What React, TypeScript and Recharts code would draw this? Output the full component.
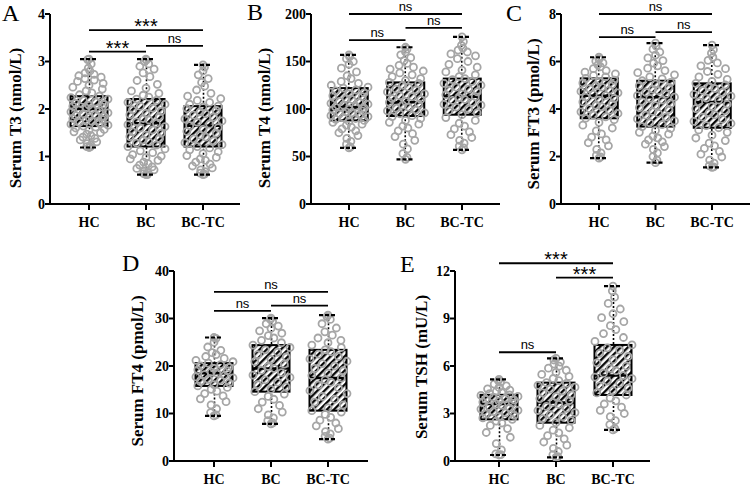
import React from 'react';
import { ComposedChart, Bar, Scatter, XAxis, YAxis, ReferenceLine } from 'recharts';

const CATS = ['HC', 'BC', 'BC-TC'];

// ---------- Panel A: Serum T3 (nmol/L)
const T3_MIN = [1.19, 0.62, 0.62];
const T3_Q1 = [1.64, 1.21, 1.21];
const T3_MED = [2.0, 1.7, 1.65];
const T3_Q3 = [2.27, 2.21, 2.06];
const T3_MAX = [3.05, 3.05, 2.93];
const T3_TICKS = [0, 1, 2, 3, 4];
const T3_HC = [1.19, 1.2, 1.21, 1.24, 1.27, 1.31, 1.35, 1.38, 1.41, 1.44, 1.47, 1.5, 1.52, 1.55, 1.57, 1.6, 1.62, 1.64, 1.66, 1.68, 1.7, 1.72, 1.74, 1.76, 1.78, 1.8, 1.82, 1.84, 1.86, 1.88, 1.9, 1.92, 1.94, 1.96, 1.98, 2.0, 2.02, 2.04, 2.06, 2.08, 2.1, 2.12, 2.15, 2.18, 2.21, 2.24, 2.27, 2.3, 2.34, 2.38, 2.42, 2.46, 2.5, 2.54, 2.58, 2.61, 2.64, 2.67, 2.7, 2.73, 2.76, 2.8, 2.86, 2.95, 3.04, 3.05];
const T3_BC = [0.62, 0.62, 0.64, 0.66, 0.69, 0.72, 0.75, 0.78, 0.82, 0.85, 0.88, 0.92, 0.95, 0.98, 1.01, 1.04, 1.08, 1.12, 1.16, 1.21, 1.24, 1.28, 1.31, 1.35, 1.38, 1.42, 1.45, 1.49, 1.52, 1.56, 1.6, 1.63, 1.67, 1.7, 1.73, 1.77, 1.8, 1.84, 1.88, 1.91, 1.95, 1.98, 2.02, 2.06, 2.1, 2.14, 2.18, 2.21, 2.25, 2.29, 2.33, 2.38, 2.44, 2.52, 2.6, 2.68, 2.76, 2.84, 2.9, 2.95, 3.0, 3.03, 3.05];
const T3_BCTC = [0.62, 0.63, 0.65, 0.68, 0.72, 0.76, 0.8, 0.84, 0.88, 0.92, 0.95, 0.98, 1.02, 1.06, 1.1, 1.14, 1.18, 1.21, 1.25, 1.29, 1.33, 1.37, 1.41, 1.45, 1.49, 1.53, 1.57, 1.61, 1.65, 1.68, 1.72, 1.75, 1.79, 1.83, 1.87, 1.9, 1.94, 1.97, 2.01, 2.04, 2.06, 2.1, 2.14, 2.18, 2.22, 2.27, 2.33, 2.4, 2.48, 2.56, 2.64, 2.72, 2.8, 2.88, 2.93];
const T3_SIGS = [
  { a: 'HC', b: 'BC-TC', y: 3.66, t: '***' },
  { a: 'HC', b: 'BC', y: 3.21, t: '***' },
  { a: 'BC', b: 'BC-TC', y: 3.33, t: 'ns' },
];

// ---------- Panel B: Serum T4 (nmol/L)
const T4_MIN = [59, 47, 57];
const T4_Q1 = [88, 92.6, 94];
const T4_MED = [102, 107, 113];
const T4_Q3 = [122, 128, 132];
const T4_MAX = [157, 165, 176];
const T4_TICKS = [0, 50, 100, 150, 200];
const T4_HC = [59, 60, 63, 66, 69, 72, 75, 77, 79, 81, 83, 84, 86, 87, 88, 89, 90, 91, 92, 93, 94, 95, 96, 97, 98, 99, 100, 101, 102, 103, 104, 105, 106, 107, 108, 110, 111, 113, 114, 116, 117, 119, 120, 122, 123, 125, 127, 129, 132, 135, 139, 143, 147, 150, 153, 155, 157];
const T4_BC = [47, 49, 53, 58, 63, 67, 71, 74, 77, 80, 82, 84, 86, 88, 90, 92, 93, 95, 96, 98, 99, 101, 102, 104, 105, 107, 108, 110, 111, 113, 114, 116, 118, 120, 121, 123, 125, 127, 128, 130, 132, 134, 136, 138, 140, 142, 144, 146, 148, 151, 154, 157, 160, 163, 165];
const T4_BCTC = [57, 59, 61, 64, 67, 70, 73, 76, 79, 82, 85, 88, 91, 94, 96, 98, 100, 102, 104, 105, 107, 109, 110, 112, 113, 115, 116, 118, 120, 121, 123, 125, 127, 129, 131, 132, 134, 136, 139, 141, 144, 147, 150, 153, 156, 158, 160, 162, 164, 167, 171, 176];
const T4_SIGS = [
  { a: 'HC', b: 'BC-TC', y: 200, t: 'ns' },
  { a: 'BC', b: 'BC-TC', y: 185.3, t: 'ns' },
  { a: 'HC', b: 'BC', y: 172.6, t: 'ns' },
];

// ---------- Panel C: Serum FT3 (pmol/L)
const FT3_MIN = [1.93, 1.74, 1.54];
const FT3_Q1 = [3.61, 3.26, 3.21];
const FT3_MED = [4.56, 4.5, 4.3];
const FT3_Q3 = [5.29, 5.19, 5.08];
const FT3_MAX = [6.18, 6.77, 6.69];
const FT3_TICKS = [0, 2, 4, 6, 8];
const FT3_HC = [1.93, 1.98, 2.05, 2.15, 2.3, 2.45, 2.58, 2.7, 2.82, 2.95, 3.08, 3.2, 3.32, 3.44, 3.55, 3.61, 3.67, 3.74, 3.81, 3.88, 3.95, 4.02, 4.09, 4.16, 4.23, 4.3, 4.37, 4.44, 4.5, 4.56, 4.62, 4.68, 4.74, 4.8, 4.86, 4.92, 4.98, 5.04, 5.1, 5.16, 5.22, 5.29, 5.35, 5.42, 5.48, 5.55, 5.62, 5.7, 5.78, 5.86, 5.94, 6.02, 6.1, 6.18];
const FT3_BC = [1.74, 1.85, 2.0, 2.15, 2.3, 2.42, 2.52, 2.62, 2.7, 2.78, 2.86, 2.94, 3.02, 3.1, 3.18, 3.26, 3.34, 3.42, 3.5, 3.58, 3.66, 3.74, 3.82, 3.9, 3.98, 4.06, 4.14, 4.22, 4.3, 4.38, 4.45, 4.5, 4.56, 4.63, 4.7, 4.77, 4.84, 4.91, 4.98, 5.05, 5.12, 5.19, 5.27, 5.35, 5.44, 5.53, 5.62, 5.72, 5.82, 5.93, 6.04, 6.15, 6.27, 6.4, 6.52, 6.65, 6.77];
const FT3_BCTC = [1.54, 1.56, 1.62, 1.72, 1.85, 1.98, 2.1, 2.22, 2.34, 2.45, 2.56, 2.67, 2.78, 2.9, 3.02, 3.12, 3.21, 3.3, 3.39, 3.48, 3.57, 3.66, 3.75, 3.84, 3.93, 4.02, 4.11, 4.2, 4.3, 4.38, 4.46, 4.54, 4.62, 4.7, 4.78, 4.86, 4.94, 5.01, 5.08, 5.16, 5.25, 5.35, 5.46, 5.58, 5.7, 5.82, 5.94, 6.05, 6.18, 6.35, 6.5, 6.69];
const FT3_SIGS = [
  { a: 'HC', b: 'BC-TC', y: 8, t: 'ns' },
  { a: 'BC', b: 'BC-TC', y: 7.24, t: 'ns' },
  { a: 'HC', b: 'BC', y: 7.03, t: 'ns' },
];

// ---------- Panel D: Serum FT4 (pmol/L)
const FT4_MIN = [9.5, 7.8, 4.6];
const FT4_Q1 = [15.8, 14.6, 10.6];
const FT4_MED = [18.5, 19.5, 17.5];
const FT4_Q3 = [20.6, 24.4, 23.4];
const FT4_MAX = [26.0, 30.1, 30.7];
const FT4_TICKS = [0, 10, 20, 30, 40];
const FT4_HC = [9.5, 9.7, 10.2, 11.0, 11.8, 12.5, 13.1, 13.7, 14.2, 14.7, 15.1, 15.5, 15.8, 16.1, 16.4, 16.7, 17.0, 17.2, 17.5, 17.7, 18.0, 18.2, 18.5, 18.7, 19.0, 19.2, 19.5, 19.7, 20.0, 20.3, 20.6, 20.9, 21.2, 21.6, 22.0, 22.4, 22.8, 23.3, 24.0, 25.0, 25.8, 26.0];
const FT4_BC = [7.8, 8.0, 8.5, 9.1, 9.7, 10.3, 11.0, 11.7, 12.4, 13.0, 13.6, 14.1, 14.6, 15.1, 15.6, 16.1, 16.6, 17.1, 17.6, 18.1, 18.6, 19.1, 19.5, 19.9, 20.4, 20.9, 21.4, 21.9, 22.4, 22.9, 23.4, 23.9, 24.4, 24.9, 25.4, 25.9, 26.4, 26.9, 27.4, 27.9, 28.4, 28.9, 29.4, 29.8, 30.1];
const FT4_BCTC = [4.6, 4.8, 5.2, 5.7, 6.2, 6.8, 7.4, 8.0, 8.6, 9.2, 9.8, 10.3, 10.6, 11.2, 11.8, 12.4, 13.0, 13.6, 14.2, 14.8, 15.4, 16.0, 16.6, 17.1, 17.5, 18.0, 18.5, 19.0, 19.5, 20.0, 20.5, 21.0, 21.5, 22.0, 22.5, 23.0, 23.4, 23.9, 24.4, 24.9, 25.4, 25.9, 26.5, 27.2, 28.0, 28.9, 29.8, 30.4, 30.7];
const FT4_SIGS = [
  { a: 'HC', b: 'BC-TC', y: 35.6, t: 'ns' },
  { a: 'BC', b: 'BC-TC', y: 32.7, t: 'ns' },
  { a: 'HC', b: 'BC', y: 31.6, t: 'ns' },
];

// ---------- Panel E: Serum TSH (mU/L)
const TSH_MIN = [0.38, 0.23, 1.96];
const TSH_Q1 = [2.63, 2.42, 4.17];
const TSH_MED = [3.6, 3.7, 5.4];
const TSH_Q3 = [4.18, 4.95, 7.33];
const TSH_MAX = [5.16, 6.48, 11.05];
const TSH_TICKS = [0, 3, 6, 9, 12];
const TSH_HC = [0.38, 0.4, 0.45, 0.7, 1.1, 1.5, 1.8, 2.05, 2.25, 2.4, 2.52, 2.63, 2.72, 2.8, 2.88, 2.96, 3.04, 3.12, 3.2, 3.28, 3.36, 3.44, 3.52, 3.6, 3.66, 3.72, 3.78, 3.84, 3.9, 3.96, 4.02, 4.08, 4.14, 4.18, 4.25, 4.32, 4.4, 4.48, 4.56, 4.65, 4.75, 4.86, 4.97, 5.08, 5.16];
const TSH_BC = [0.23, 0.28, 0.4, 0.6, 0.8, 1.0, 1.2, 1.4, 1.6, 1.78, 1.95, 2.1, 2.25, 2.42, 2.55, 2.68, 2.8, 2.93, 3.06, 3.19, 3.32, 3.45, 3.58, 3.7, 3.82, 3.94, 4.06, 4.18, 4.3, 4.42, 4.54, 4.66, 4.78, 4.9, 4.95, 5.08, 5.21, 5.34, 5.47, 5.6, 5.73, 5.86, 5.99, 6.12, 6.25, 6.38, 6.48];
const TSH_BCTC = [1.96, 2.05, 2.3, 2.55, 2.8, 3.0, 3.2, 3.4, 3.6, 3.8, 3.98, 4.17, 4.3, 4.45, 4.6, 4.75, 4.9, 5.05, 5.2, 5.3, 5.4, 5.55, 5.7, 5.85, 6.0, 6.2, 6.4, 6.6, 6.8, 7.0, 7.15, 7.33, 7.55, 7.8, 8.05, 8.3, 8.55, 8.8, 9.05, 9.3, 9.6, 9.95, 10.35, 10.75, 11.05];
const TSH_SIGS = [
  { a: 'HC', b: 'BC-TC', y: 12.49, t: '***' },
  { a: 'BC', b: 'BC-TC', y: 11.58, t: '***' },
  { a: 'HC', b: 'BC', y: 6.87, t: 'ns' },
];

// ---------- styling
const SERIF = "'Liberation Serif','Times New Roman',serif";
const SANS = "'Liberation Sans',Arial,sans-serif";
const POINT = '#a6a6a6';
const SPREAD = [0, 0.8, -0.7, 0.35, -0.3, 1.0, -0.95, 0.55, -0.5, 0.15, -0.15, 0.7, -0.85];
const XH = 30;

const Dot = (props: any) => {
  const { cx, cy, payload } = props;
  if (cx == null || cy == null) return null;
  const q = payload.n > 1 ? payload.i / (payload.n - 1) : 0.5;
  const amp = 19 * Math.min(1, 1.7 * Math.sin(Math.PI * q));
  const dx = SPREAD[payload.i % SPREAD.length] * amp;
  return <circle cx={cx + dx} cy={cy} r={3.5} fill="none" stroke={POINT} strokeWidth={1.8} />;
};

const MedShape = (props: any) => {
  const { cx, cy } = props;
  if (cx == null || cy == null) return null;
  return <line x1={cx - 18} x2={cx + 18} y1={cy} y2={cy} stroke="#000" strokeWidth={2.5} />;
};

const CapShape = (props: any) => {
  const { cx, cy } = props;
  if (cx == null || cy == null) return null;
  return <line x1={cx - 9} x2={cx + 9} y1={cy} y2={cy} stroke="#000" strokeWidth={2.2} strokeDasharray="4 2" />;
};

const WhiskerShape = (props: any) => {
  const { x, y, width, height } = props;
  const cx = x + width / 2;
  const top = Math.min(y, y + height);
  const bot = Math.max(y, y + height);
  return <line x1={cx} x2={cx} y1={top} y2={bot} stroke="#000" strokeWidth={1.6} strokeDasharray="2 2" />;
};

const makeBoxShape = (pid: string) => (props: any) => {
  const { x, y, width, height } = props;
  const top = Math.min(y, y + height);
  const h = Math.abs(height);
  return <rect x={x} y={top} width={width} height={h} fill={`url(#${pid})`} stroke="#000" strokeWidth={2} />;
};

const XTick = (props: any) => {
  const { x, y, payload, dy } = props;
  return (
    <text x={x} y={y + dy} textAnchor="middle" fontFamily={SERIF} fontWeight="bold" fontSize={14} fill="#000">
      {payload.value}
    </text>
  );
};

const YTick = (props: any) => {
  const { x, y, payload } = props;
  return (
    <text x={x} y={y + 4.7} textAnchor="end" fontFamily={SERIF} fontWeight="bold" fontSize={14} fill="#000">
      {payload.value}
    </text>
  );
};

const YLabel = (props: any) => {
  const { lx, ly, text } = props;
  return (
    <text x={lx} y={ly} transform={`rotate(-90, ${lx}, ${ly})`} textAnchor="middle" dominantBaseline="central"
      fontFamily={SERIF} fontWeight="bold" fontSize={17} fill="#000">
      {text}
    </text>
  );
};

const SigLabel = (props: any) => {
  const { viewBox, t } = props;
  if (!viewBox) return null;
  const cx = viewBox.x + (viewBox.width || 0) / 2;
  const y = viewBox.y;
  if (t === 'ns') {
    return <text x={cx} y={y - 3} textAnchor="middle" fontFamily={SANS} fontSize={13} fill="#000">ns</text>;
  }
  return <text x={cx} y={y + 3} textAnchor="middle" fontFamily={SANS} fontSize={20} fill="#000">{t}</text>;
};

type Sig = { a: string; b: string; y: number; t: string };
type PanelCfg = {
  id: string; left: number; top: number; w: number; h: number;
  axisX: number; plotTop: number; plotBottom: number; plotRight: number;
  padL: number; padR: number; xdy: number; ymax: number; ticks: number[];
  label: string; labelX: number; labelY: number;
  mins: number[]; q1s: number[]; meds: number[]; q3s: number[]; maxs: number[];
  groups: number[][]; sigs: Sig[];
};

const Panel = ({ p }: { p: PanelCfg }) => {
  const rows = CATS.map((cat, i) => ({
    cat,
    whisker: [p.mins[i], p.maxs[i]],
    box: [p.q1s[i], p.q3s[i]],
    med: p.meds[i],
    lo: p.mins[i],
    hi: p.maxs[i],
  }));
  const pts = p.groups.map((vals, gi) => vals.map((v, i) => ({ cat: CATS[gi], v, i, n: vals.length })));
  const pid = 'hatch' + p.id;
  const mTop = p.plotTop - p.top;
  const mRight = p.left + p.w - p.plotRight;
  const mBottom = p.h - (p.plotBottom - p.top) - XH;
  const axisStyle = { stroke: '#000', strokeWidth: 2 };
  return (
    <div style={{ position: 'absolute', left: p.left, top: p.top, width: p.w, height: p.h }}>
      <ComposedChart width={p.w} height={p.h} data={rows} margin={{ top: mTop, right: mRight, bottom: mBottom, left: 0 }}>
        <defs>
          <pattern id={pid} patternUnits="userSpaceOnUse" width={5} height={5} patternTransform="rotate(45)">
            <rect width={5} height={5} fill="#fff" />
            <line x1={1.2} y1={0} x2={1.2} y2={5} stroke="#000" strokeWidth={2.3} />
          </pattern>
        </defs>
        <XAxis dataKey="cat" type="category" allowDuplicatedCategory={false} padding={{ left: p.padL, right: p.padR }}
          height={XH} axisLine={axisStyle} tickLine={axisStyle} tickSize={6} interval={0}
          tick={<XTick dy={p.xdy} />} />
        <XAxis xAxisId="w" dataKey="cat" type="category" allowDuplicatedCategory={false}
          padding={{ left: p.padL, right: p.padR }} hide />
        <YAxis type="number" width={p.axisX - p.left} domain={[0, p.ymax]} ticks={p.ticks} interval={0}
          axisLine={axisStyle} tickLine={axisStyle} tickSize={5} tickMargin={0} tick={<YTick />}
          allowDataOverflow
          label={<YLabel lx={p.labelX - p.left} ly={p.labelY - p.top} text={p.label} />} />
        <Bar xAxisId="w" dataKey="whisker" barSize={10} shape={WhiskerShape} isAnimationActive={false} />
        <Bar dataKey="box" barSize={37} shape={makeBoxShape(pid)} isAnimationActive={false} />
        <Scatter dataKey="med" shape={MedShape} isAnimationActive={false} />
        {pts.map((g, gi) => (
          <Scatter key={'g' + gi} data={g} dataKey="v" shape={Dot} isAnimationActive={false} />
        ))}
        <Scatter dataKey="lo" shape={CapShape} isAnimationActive={false} />
        <Scatter dataKey="hi" shape={CapShape} isAnimationActive={false} />
        {p.sigs.map((s, k) => (
          <ReferenceLine key={'s' + k} segment={[{ x: s.a, y: s.y }, { x: s.b, y: s.y }]} stroke="#000"
            strokeWidth={1.8} ifOverflow="visible" label={<SigLabel t={s.t} />} />
        ))}
      </ComposedChart>
    </div>
  );
};

const PANELS: PanelCfg[] = [
  {
    id: 'A', left: 0, top: 0, w: 250, h: 240, axisX: 50, plotTop: 14, plotBottom: 204, plotRight: 240,
    padL: 10.5, padR: 8.5, xdy: 15, ymax: 4, ticks: T3_TICKS, label: 'Serum T3 (nmol/L)', labelX: 15, labelY: 118,
    mins: T3_MIN, q1s: T3_Q1, meds: T3_MED, q3s: T3_Q3, maxs: T3_MAX, groups: [T3_HC, T3_BC, T3_BCTC], sigs: T3_SIGS,
  },
  {
    id: 'B', left: 250, top: 0, w: 253, h: 240, axisX: 311, plotTop: 14, plotBottom: 204, plotRight: 500,
    padL: 9.75, padR: 9.75, xdy: 15, ymax: 200, ticks: T4_TICKS, label: 'Serum T4 (nmol/L)', labelX: 264, labelY: 118,
    mins: T4_MIN, q1s: T4_Q1, meds: T4_MED, q3s: T4_Q3, maxs: T4_MAX, groups: [T4_HC, T4_BC, T4_BCTC], sigs: T4_SIGS,
  },
  {
    id: 'C', left: 503, top: 0, w: 250, h: 240, axisX: 561, plotTop: 14, plotBottom: 204, plotRight: 750,
    padL: 9.75, padR: 9.75, xdy: 15, ymax: 8, ticks: FT3_TICKS, label: 'Serum FT3 (pmol/L)', labelX: 533, labelY: 114,
    mins: FT3_MIN, q1s: FT3_Q1, meds: FT3_MED, q3s: FT3_Q3, maxs: FT3_MAX, groups: [FT3_HC, FT3_BC, FT3_BCTC], sigs: FT3_SIGS,
  },
  {
    id: 'D', left: 120, top: 240, w: 260, h: 248, axisX: 174, plotTop: 271, plotBottom: 461, plotRight: 368,
    padL: 11.5, padR: 11.5, xdy: 14.5, ymax: 40, ticks: FT4_TICKS, label: 'Serum FT4 (pmol/L)', labelX: 137.5, labelY: 371,
    mins: FT4_MIN, q1s: FT4_Q1, meds: FT4_MED, q3s: FT4_Q3, maxs: FT4_MAX, groups: [FT4_HC, FT4_BC, FT4_BCTC], sigs: FT4_SIGS,
  },
  {
    id: 'E', left: 380, top: 240, w: 280, h: 248, axisX: 455, plotTop: 271, plotBottom: 461, plotRight: 650,
    padL: 15.5, padR: 8.5, xdy: 14.5, ymax: 12, ticks: TSH_TICKS, label: 'Serum TSH (mU/L)', labelX: 421, labelY: 367,
    mins: TSH_MIN, q1s: TSH_Q1, meds: TSH_MED, q3s: TSH_Q3, maxs: TSH_MAX, groups: [TSH_HC, TSH_BC, TSH_BCTC], sigs: TSH_SIGS,
  },
];

const LETTERS = [
  { t: 'A', x: 2, y: 21 },
  { t: 'B', x: 247, y: 20 },
  { t: 'C', x: 506, y: 21 },
  { t: 'D', x: 122, y: 271 },
  { t: 'E', x: 400, y: 272 },
];

export default function App() {
  return (
    <div style={{ position: 'absolute', left: 0, top: 0, width: 753, height: 488, background: '#fff', overflow: 'hidden' }}>
      {PANELS.map((p) => (
        <Panel key={p.id} p={p} />
      ))}
      <svg width={753} height={488} style={{ position: 'absolute', left: 0, top: 0, pointerEvents: 'none' }}>
        {LETTERS.map((l) => (
          <text key={l.t} x={l.x} y={l.y} fontFamily={SERIF} fontSize={24} fill="#000">{l.t}</text>
        ))}
      </svg>
    </div>
  );
}
